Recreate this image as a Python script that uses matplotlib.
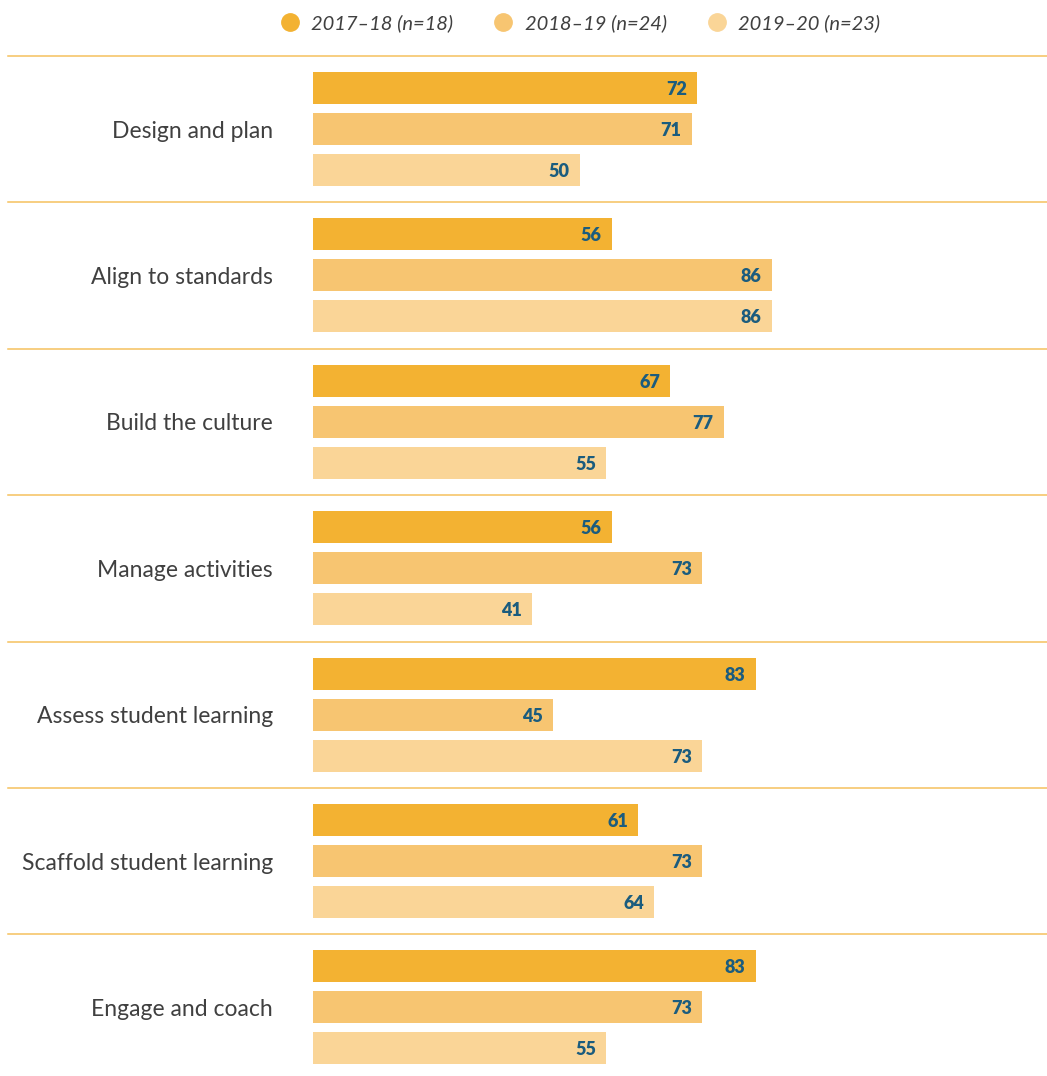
import numpy as np
import matplotlib.pyplot as plt
from matplotlib.lines import Line2D

categories = ['Design and plan', 'Align to standards', 'Build the culture',
              'Manage activities', 'Assess student learning',
              'Scaffold student learning', 'Engage and coach']
series = ['2017–18 (n=18)', '2018–19 (n=24)', '2019–20 (n=23)']
v2017 = [72, 56, 67, 56, 83, 61, 83]
v2018 = [71, 86, 77, 73, 45, 73, 73]
v2019 = [50, 86, 55, 41, 73, 64, 55]

colors = ['#F3B232', '#F7C571', '#FAD597']
label_color = '#1B5C7E'
text_color = '#404040'
line_color = '#F5C15E'

plt.rcParams['font.family'] = ['Lato', 'DejaVu Sans']

fig = plt.figure(figsize=(10.47, 10.76), dpi=100)
# axes covers whole figure; x in value units, y in pixel rows
px = 5.333  # pixels per unit
x0 = 313
ax = fig.add_axes([0, 0, 1, 1])
ax.set_xlim(-x0 / px, (1047 - x0) / px)
ax.set_ylim(1076, 0)
ax.axis('off')

pitch = 146.4
top = 56
bar_h = 32
offsets = [-41, 0, 41]
y = top + 73 + np.arange(len(categories)) * pitch

for vals, col, off in zip([v2017, v2018, v2019], colors, offsets):
    ax.barh(y + off, vals, height=bar_h, color=col, left=0)
    for yi, v in zip(y, vals):
        ax.text(v - 1.9, yi + off + 1.5, str(v), ha='right', va='center',
                fontsize=13, fontweight='heavy', color=label_color)

for yi, cat in zip(y, categories):
    ax.text(-7.5, yi + 2, cat, ha='right', va='center', fontsize=16.5, color=text_color)

for i in range(len(categories)):
    ax.plot([-(x0 - 8) / px, (1047 - x0) / px], [top + i * pitch] * 2,
            color=line_color, lw=1.1)

handles = [Line2D([], [], marker='o', ls='', markersize=12.5, color=c) for c in colors]
leg = fig.legend(handles, series, loc='center', bbox_to_anchor=(579 / 1047, 1 - 23 / 1076),
                 ncol=3, frameon=False, handletextpad=0.45, columnspacing=1.9,
                 handlelength=1.2, prop={'style': 'italic', 'size': 14.5})
for t in leg.get_texts():
    t.set_color(text_color)

fig.savefig('out.png', dpi=100)
